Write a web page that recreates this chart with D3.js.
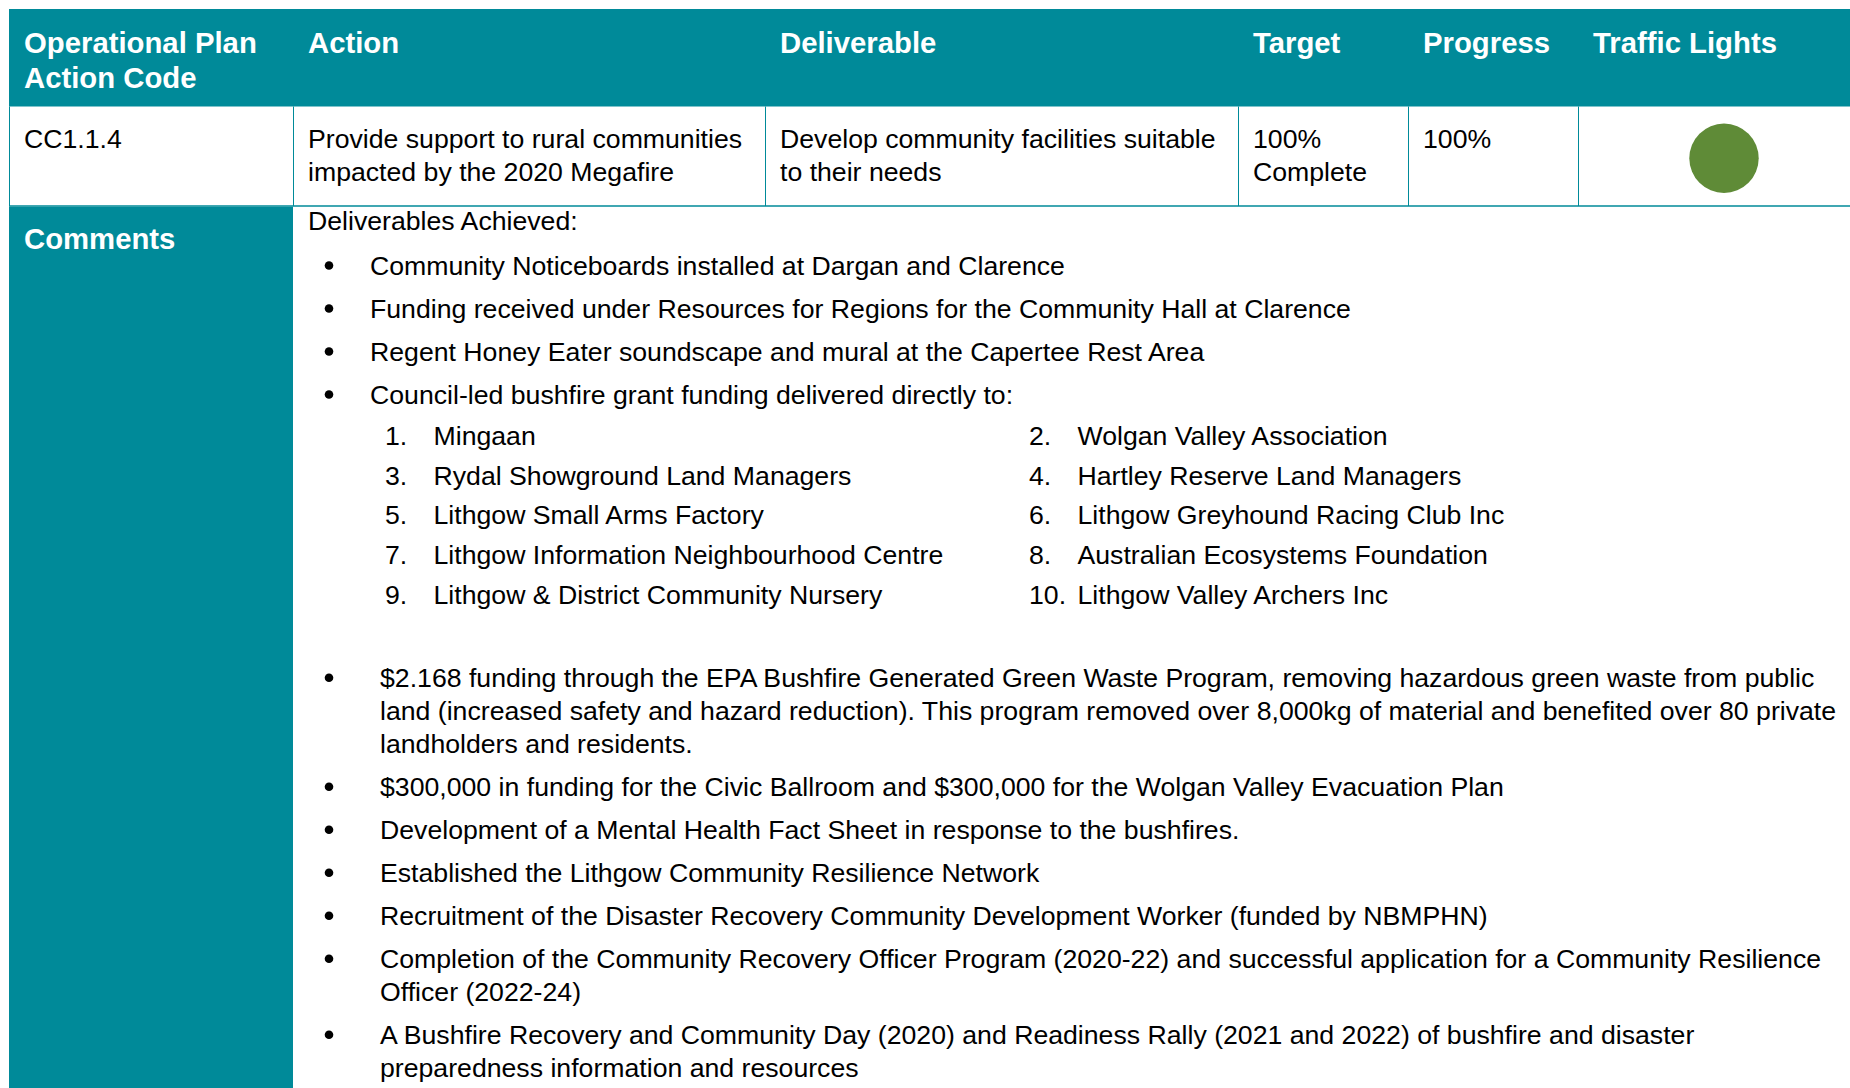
<!DOCTYPE html>
<html>
<head>
<meta charset="utf-8">
<script src="https://cdn.jsdelivr.net/npm/d3@7"></script>
<style>
  html, body { margin: 0; padding: 0; background: #fff; overflow: hidden; }
  svg { display: block; font-family: "Liberation Sans", Arial, sans-serif; }
</style>
</head>
<body>
<div id="chart"></div>
<script>
// Table content
const headers = [
  ["Operational Plan", "Action Code"],
  ["Action"],
  ["Deliverable"],
  ["Target"],
  ["Progress"],
  ["Traffic Lights"]
];
const rowCells = [
  ["CC1.1.4"],
  ["Provide support to rural communities", "impacted by the 2020 Megafire"],
  ["Develop community facilities suitable", "to their needs"],
  ["100%", "Complete"],
  ["100%"]
];
const trafficLight = "green";
const commentsLabel = "Comments";
const commentsIntro = "Deliverables Achieved:";
const achievements = [
  "Community Noticeboards installed at Dargan and Clarence",
  "Funding received under Resources for Regions for the Community Hall at Clarence",
  "Regent Honey Eater soundscape and mural at the Capertee Rest Area",
  "Council-led bushfire grant funding delivered directly to:"
];
const recipients = [
  "Mingaan",
  "Wolgan Valley Association",
  "Rydal Showground Land Managers",
  "Hartley Reserve Land Managers",
  "Lithgow Small Arms Factory",
  "Lithgow Greyhound Racing Club Inc",
  "Lithgow Information Neighbourhood Centre",
  "Australian Ecosystems Foundation",
  "Lithgow & District Community Nursery",
  "Lithgow Valley Archers Inc"
];
// each item as it wraps in the report
const moreAchievements = [
  ["$2.168 funding through the EPA Bushfire Generated Green Waste Program, removing hazardous green waste from public",
   "land (increased safety and hazard reduction). This program removed over 8,000kg of material and benefited over 80 private",
   "landholders and residents."],
  ["$300,000 in funding for the Civic Ballroom and $300,000 for the Wolgan Valley Evacuation Plan"],
  ["Development of a Mental Health Fact Sheet in response to the bushfires."],
  ["Established the Lithgow Community Resilience Network"],
  ["Recruitment of the Disaster Recovery Community Development Worker (funded by NBMPHN)"],
  ["Completion of the Community Recovery Officer Program (2020-22) and successful application for a Community Resilience",
   "Officer (2022-24)"],
  ["A Bushfire Recovery and Community Day (2020) and Readiness Rally (2021 and 2022) of bushfire and disaster",
   "preparedness information and resources"]
];

// Layout
const WIDTH = 1850, HEIGHT = 1088;
const TEAL = "#008a99";
const LIGHTS = { green: "#5f8b37", amber: "#f2a900", red: "#c8102e" };
const LEFT = 9, TOP = 9, HEAD_BOTTOM = 106.5, ROW_BOTTOM = 206;
const PAD = 15;
const HEAD_SIZE = 29.3, BODY_SIZE = 26.67;

const svg = d3.select("#chart").append("svg")
    .attr("width", WIDTH)
    .attr("height", HEIGHT);

// column positions
const x = d3.scaleOrdinal()
    .domain(d3.range(headers.length))
    .range([LEFT, 293, 765, 1238, 1408, 1578]);

// Header band
svg.append("rect")
    .attr("x", LEFT).attr("y", TOP)
    .attr("width", WIDTH - LEFT).attr("height", HEAD_BOTTOM - TOP)
    .attr("fill", TEAL);

svg.append("g").selectAll("text")
    .data(headers)
    .join("text")
        .attr("fill", "#fff")
        .attr("font-weight", "bold")
        .attr("font-size", HEAD_SIZE)
    .selectAll("tspan")
    .data((d, i) => d.map((line, j) => ({ line, i, j })))
    .join("tspan")
        .attr("x", d => x(d.i) + PAD)
        .attr("y", d => 53.3 + d.j * 35)
        .text(d => d.line);

// Row cells
svg.append("g").selectAll("line")
    .data(d3.range(headers.length))
    .join("line")
        .attr("x1", d => x(d) + 0.5).attr("x2", d => x(d) + 0.5)
        .attr("y1", HEAD_BOTTOM).attr("y2", ROW_BOTTOM)
        .attr("stroke", TEAL).attr("stroke-width", 1);

svg.append("line")
    .attr("x1", LEFT).attr("x2", WIDTH)
    .attr("y1", ROW_BOTTOM).attr("y2", ROW_BOTTOM)
    .attr("stroke", TEAL).attr("stroke-width", 1.5);

svg.append("g").selectAll("text")
    .data(rowCells)
    .join("text")
        .attr("fill", "#000")
        .attr("font-size", BODY_SIZE)
    .selectAll("tspan")
    .data((d, i) => d.map((line, j) => ({ line, i, j })))
    .join("tspan")
        .attr("x", d => x(d.i) + PAD)
        .attr("y", d => 148.3 + d.j * 32.4)
        .text(d => d.line);

// Traffic light
svg.append("circle")
    .attr("cx", x(5) + 146)
    .attr("cy", 158.3)
    .attr("r", 34.7)
    .attr("fill", LIGHTS[trafficLight]);

// Comments column
svg.append("rect")
    .attr("x", LEFT).attr("y", ROW_BOTTOM + 0.75)
    .attr("width", x(1) - LEFT).attr("height", HEIGHT - ROW_BOTTOM)
    .attr("fill", TEAL);

svg.append("text")
    .attr("x", LEFT + PAD).attr("y", 249)
    .attr("fill", "#fff")
    .attr("font-weight", "bold")
    .attr("font-size", HEAD_SIZE)
    .text(commentsLabel);

const body = svg.append("g")
    .attr("font-size", BODY_SIZE)
    .attr("fill", "#000");

body.append("text")
    .attr("x", x(1) + PAD).attr("y", 230)
    .text(commentsIntro);

const BULLET_X = 329;

// first bullet list
const y1 = d3.scaleLinear().domain([0, 1]).range([274.5, 317.5]);
const list1 = body.append("g").selectAll("g")
    .data(achievements)
    .join("g");
list1.append("circle")
    .attr("cx", BULLET_X).attr("cy", (d, i) => y1(i) - 9)
    .attr("r", 4.3);
list1.append("text")
    .attr("x", 370).attr("y", (d, i) => y1(i))
    .text(d => d);

// numbered recipients, two columns
const numX = d3.scaleOrdinal().domain([0, 1]).range([385, 1029]);
const yNum = d3.scalePoint()
    .domain(d3.range(Math.ceil(recipients.length / 2)))
    .range([445, 603.5]);
const list2 = body.append("g").selectAll("g")
    .data(recipients.map((name, i) => ({ name, n: i + 1, col: i % 2, row: Math.floor(i / 2) })))
    .join("g");
list2.append("text")
    .attr("x", d => numX(d.col)).attr("y", d => yNum(d.row))
    .text(d => d.n + ".");
list2.append("text")
    .attr("x", d => numX(d.col) + 48.5).attr("y", d => yNum(d.row))
    .text(d => d.name);

// second bullet list with wrapped lines
const LINE = 33, GAP = 10;
let cursor = 686.7;
const items = moreAchievements.map(lines => {
  const item = { lines, y: cursor };
  cursor += lines.length * LINE + GAP;
  return item;
});
const list3 = body.append("g").selectAll("g")
    .data(items)
    .join("g");
list3.append("circle")
    .attr("cx", BULLET_X).attr("cy", d => d.y - 9)
    .attr("r", 4.3);
list3.append("text")
    .selectAll("tspan")
    .data(d => d.lines.map((line, j) => ({ line, y: d.y + j * LINE })))
    .join("tspan")
        .attr("x", 380)
        .attr("y", d => d.y)
        .text(d => d.line);
</script>
</body>
</html>
